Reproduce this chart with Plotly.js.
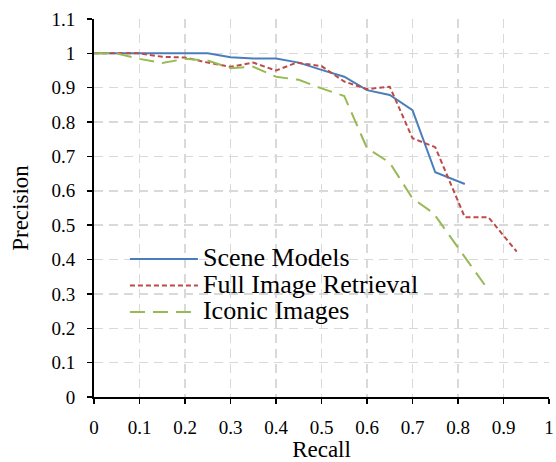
<!DOCTYPE html>
<html>
<head>
<meta charset="utf-8">
<script src="https://cdn.plot.ly/plotly-3.0.1.min.js"></script>
<style>html,body{margin:0;padding:0;background:#fff;}</style>
</head>
<body>
<div id="chart" style="width:556px;height:462px;"></div>
<script>
var seriesNames = ["Scene Models", "Full Image Retrieval", "Iconic Images"];

var sceneRecall    = [0, 0.25, 0.30, 0.35, 0.40, 0.45, 0.50, 0.55, 0.60, 0.65, 0.70, 0.75, 0.815];
var scenePrecision = [1.0, 1.0, 0.989, 0.985, 0.985, 0.973, 0.952, 0.932, 0.893, 0.879, 0.835, 0.654, 0.62];

var fullRecall    = [0, 0.10, 0.15, 0.20, 0.25, 0.30, 0.35, 0.40, 0.445, 0.50, 0.55, 0.60, 0.65, 0.70, 0.75, 0.815, 0.867, 0.929];
var fullPrecision = [1.0, 1.0, 0.99, 0.988, 0.973, 0.961, 0.973, 0.95, 0.973, 0.963, 0.918, 0.896, 0.903, 0.753, 0.727, 0.523, 0.523, 0.423];

var iconicRecall    = [0, 0.05, 0.10, 0.15, 0.20, 0.25, 0.30, 0.35, 0.40, 0.45, 0.50, 0.55, 0.60, 0.65, 0.70, 0.746, 0.867];
var iconicPrecision = [1.0, 1.0, 0.984, 0.972, 0.984, 0.979, 0.957, 0.961, 0.932, 0.923, 0.898, 0.876, 0.724, 0.682, 0.578, 0.535, 0.311];

var xTickVals = [0, 0.1, 0.2, 0.3, 0.4, 0.5, 0.6, 0.7, 0.8, 0.9, 1];
var yTickVals = [0, 0.1, 0.2, 0.3, 0.4, 0.5, 0.6, 0.7, 0.8, 0.9, 1, 1.1];
var xTickText = ["0", "0.1", "0.2", "0.3", "0.4", "0.5", "0.6", "0.7", "0.8", "0.9", "1"];
var yTickText = ["0", "0.1", "0.2", "0.3", "0.4", "0.5", "0.6", "0.7", "0.8", "0.9", "1", "1.1"];

function lbl(s) { return '<span style="font-size:26px">' + s + '</span>'; }

var traces = [
  {x: sceneRecall, y: scenePrecision, name: lbl(seriesNames[0]), mode: 'lines',
   line: {color: '#4a7ebb', width: 2, dash: 'solid'}},
  {x: fullRecall, y: fullPrecision, name: lbl(seriesNames[1]), mode: 'lines',
   line: {color: '#be4b48', width: 2, dash: '5px,3px'}},
  {x: iconicRecall, y: iconicPrecision, name: lbl(seriesNames[2]), mode: 'lines',
   line: {color: '#98b954', width: 2, dash: '15px,8px'}}
];

var fontFam = 'Liberation Serif, Times New Roman, serif';

var layout = {
  width: 556, height: 462,
  margin: {l: 94, r: 7, t: 19, b: 65},
  paper_bgcolor: '#fff', plot_bgcolor: '#fff',
  font: {family: fontFam, color: '#000', size: 19},
  showlegend: true,
  legend: {
    x: 0.068, y: 0.413, xanchor: 'left', yanchor: 'top',
    bgcolor: 'rgba(0,0,0,0)', borderwidth: 0,
    font: {family: fontFam, size: 18, color: '#000'},
    itemwidth: 68, tracegroupgap: 0
  },
  xaxis: {
    range: [0, 1], tickmode: 'array', tickvals: xTickVals, ticktext: xTickText,
    showline: true, linecolor: '#000', linewidth: 2,
    ticks: 'outside', ticklen: 5, tickwidth: 1.5, tickcolor: '#000',
    ticklabelstandoff: 7,
    showgrid: true, gridcolor: '#d9d9d9', gridwidth: 1.5, griddash: '9px,6px',
    zeroline: false, mirror: false,
    tickfont: {family: fontFam, size: 19, color: '#000'},
    title: {text: 'Recall', font: {family: fontFam, size: 23, color: '#000'}, standoff: 4}
  },
  yaxis: {
    range: [0, 1.1], tickmode: 'array', tickvals: yTickVals, ticktext: yTickText,
    showline: true, linecolor: '#000', linewidth: 2,
    ticks: 'outside', ticklen: 5, tickwidth: 1.5, tickcolor: '#000',
    ticklabelstandoff: 8,
    showgrid: true, gridcolor: '#d9d9d9', gridwidth: 1.5, griddash: '9px,6px',
    zeroline: false,
    tickfont: {family: fontFam, size: 19, color: '#000'},
    title: {text: 'Precision', font: {family: fontFam, size: 23, color: '#000'}, standoff: 16}
  }
};

Plotly.newPlot('chart', traces, layout, {displayModeBar: false, staticPlot: true});
</script>
</body>
</html>
